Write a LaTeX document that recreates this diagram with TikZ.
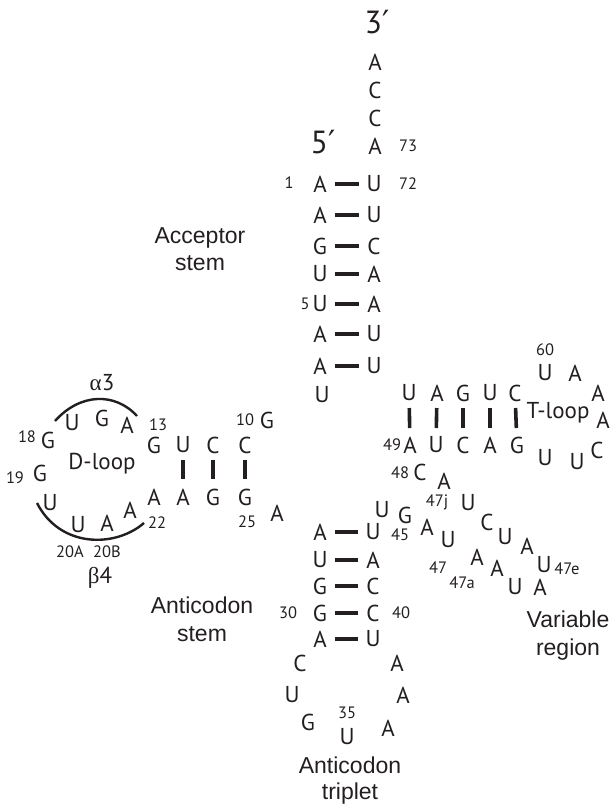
\documentclass[tikz,border=0pt]{standalone}
\usepackage{fontspec}
\setmainfont{PT Sans}
\newfontfamily\lab{Liberation Sans}
\newfontfamily\grk{Liberation Serif}
\newfontfamily\dv{DejaVu Sans}
\definecolor{ink}{RGB}{35,31,32}
\begin{document}
\begin{tikzpicture}[x=1pt,y=-1pt,
  nt/.style={font=\fontsize{23}{23}\selectfont, inner sep=0pt, text=ink},
  num/.style={font=\fontsize{16.5}{16.5}\selectfont, inner sep=0pt, text=ink},
  big/.style={font=\fontsize{32}{32}\selectfont, inner sep=0pt, text=ink},
  lbl/.style={font=\lab\fontsize{23}{23}\selectfont, inner sep=0pt, anchor=base, text=ink},
  loopl/.style={font=\fontsize{23}{23}\selectfont, inner sep=0pt, anchor=base, text=ink},
  hb/.style={draw=ink, line width=3.6pt, shorten <=15pt, shorten >=15pt},
  vbd/.style={draw=ink, line width=3.6pt, shorten <=15pt, shorten >=18pt},
  vbt/.style={draw=ink, line width=3.6pt, shorten <=15pt, shorten >=17pt},
  arcl/.style={draw=ink, line width=2.4pt}]
\useasboundingbox (0,0) rectangle (611,807);

% ---------- acceptor stem ----------
\node[big] (p3) at (377,22) {3{\dv′}};
\node[big] (p5) at (323,142) {5{\dv′}};
\node[nt] (a76) at (375,62) {A};
\node[nt] (c75) at (375,90) {C};
\node[nt] (c74) at (375,118) {C};
\node[nt] (a73) at (375,146) {A};
\node[num] (n73) at (408,146) {73};
\node[num] (n72) at (408,184) {72};
\node[num] (n1) at (289,183) {1};
\node[num] (n5) at (305,304) {5};

\node[nt] (s1) at (320,184) {A};
\node[nt] (s2) at (320,215) {A};
\node[nt] (s3) at (320,246) {G};
\node[nt] (s4) at (320,274) {U};
\node[nt] (s5) at (320,304) {U};
\node[nt] (s6) at (320,334) {A};
\node[nt] (s7) at (320,366) {A};
\node[nt] (t1) at (374,184) {U};
\node[nt] (t2) at (374,215) {U};
\node[nt] (t3) at (374,246) {C};
\node[nt] (t4) at (374,274) {A};
\node[nt] (t5) at (374,304) {A};
\node[nt] (t6) at (374,334) {U};
\node[nt] (t7) at (374,366) {U};
\foreach \i in {1,...,7} {\draw[hb] (s\i.center) -- (t\i.center);}

\node[lbl] (accl1) at (200,243) {Acceptor};
\node[lbl] (accl2) at (200,270) {stem};

\node[nt] (u8) at (322,395) {U};

% ---------- D arm ----------
\node[num] (n10) at (245,420) {10};
\node[nt] (g10) at (267,420) {G};
\node[nt] (dg) at (154,445) {G};
\node[nt] (du) at (183,445) {U};
\node[nt] (dc1) at (213,445) {C};
\node[nt] (dc2) at (245,445) {C};
\node[nt] (da1) at (154,497) {A};
\node[nt] (da2) at (183,497) {A};
\node[nt] (dg1) at (213,497) {G};
\node[nt] (dg2) at (245,497) {G};
\draw[vbd] (du.center) -- (da2.center);
\draw[vbd] (dc1.center) -- (dg1.center);
\draw[vbd] (dc2.center) -- (dg2.center);
\node[num] (n13) at (158,425) {13};
\node[nt] (la1) at (127,425) {A};
\node[nt] (lg1) at (102,418) {G};
\node[nt] (lu1) at (72,423) {U};
\node[nt] (g18) at (48,440) {G};
\node[num] (n18) at (27,437) {18};
\node[nt] (g19) at (40,473) {G};
\node[num] (n19) at (15,478) {19};
\node[nt] (lu2) at (50,503) {U};
\node[nt] (lu3) at (78,525) {U};
\node[nt] (la2) at (107,523) {A};
\node[nt] (la3) at (130,510) {A};
\node[num] (n22) at (157,523) {22};
\node[num] (n20a) at (70,552) {20A};
\node[num] (n20b) at (107,552) {20B};
\node[loopl] (dloop) at (102,469) {D-loop};
\node[nt] (alpha) at (102,383) {{\grk α}3};
\node[nt] (beta) at (100,578) {{\grk β}4};
\draw[arcl] (55,421) .. controls (80,393) and (115,392) .. (137,416);
\draw[arcl] (37,503) .. controls (60,548) and (115,548) .. (144,523);
\node[num] (n25) at (247,522) {25};
\node[nt] (a26) at (277,513) {A};

% ---------- anticodon arm ----------
\node[nt] (c1) at (320,532) {A};
\node[nt] (c2) at (320,560) {U};
\node[nt] (c3) at (320,586) {G};
\node[nt] (c4) at (320,613) {G};
\node[nt] (c5) at (320,639) {A};
\node[nt] (e1) at (373,532) {U};
\node[nt] (e2) at (373,560) {A};
\node[nt] (e3) at (373,586) {C};
\node[nt] (e4) at (373,613) {C};
\node[nt] (e5) at (373,639) {U};
\foreach \i in {1,...,5} {\draw[hb] (c\i.center) -- (e\i.center);}
\node[num] (n30) at (288,613) {30};
\node[num] (n40) at (401,613) {40};
\node[num] (n45) at (400,535) {45};
\node[nt] (ac1) at (300,663) {C};
\node[nt] (ac2) at (292,695) {U};
\node[nt] (ac3) at (308,722) {G};
\node[nt] (u35) at (347,737) {U};
\node[num] (n35) at (347,713) {35};
\node[nt] (ac5) at (388,728) {A};
\node[nt] (ac6) at (403,695) {A};
\node[nt] (ac7) at (397,663) {A};
\node[lbl] (acl1) at (202,613) {Anticodon};
\node[lbl] (acl2) at (202,641) {stem};
\node[lbl] (acl3) at (350,773) {Anticodon};
\node[lbl] (acl4) at (350,799) {triplet};

% ---------- variable region ----------
\node[nt] (v44) at (382,510) {U};
\node[nt] (v45) at (405,515) {G};
\node[nt] (v46) at (427,527) {A};
\node[nt] (v47) at (448,540) {U};
\node[nt] (v47a) at (477,557) {A};
\node[nt] (v47b) at (497,568) {A};
\node[nt] (v47c) at (515,587) {U};
\node[nt] (v47d) at (540,587) {A};
\node[nt] (v47e) at (544,565) {U};
\node[num] (n47e) at (567,569) {47e};
\node[nt] (v47f) at (527,546) {A};
\node[nt] (v47g) at (505,537) {U};
\node[nt] (v47h) at (487,522) {C};
\node[nt] (v47i) at (468,503) {U};
\node[num] (n47j) at (437,502) {47j};
\node[nt] (v47j) at (444,481) {A};
\node[nt] (c48) at (420,472) {C};
\node[num] (n48) at (400,473) {48};
\node[num] (n47) at (438,568) {47};
\node[num] (n47a) at (462,583) {47a};
\node[lbl] (vl1) at (568,627) {Variable};
\node[lbl] (vl2) at (568,655) {region};

% ---------- T arm ----------
\node[nt] (tu1) at (409,393) {U};
\node[nt] (ta1) at (437,393) {A};
\node[nt] (tg1) at (463,393) {G};
\node[nt] (tu2) at (490,393) {U};
\node[nt] (tc1) at (515,393) {C};
\node[nt] (ba1) at (410,445) {A};
\node[nt] (bu1) at (436,445) {U};
\node[nt] (bc1) at (463,445) {C};
\node[nt] (ba2) at (490,445) {A};
\node[nt] (bg1) at (517,445) {G};
\draw[vbt] (tu1.center) -- (ba1.center);
\draw[vbt] (ta1.center) -- (bu1.center);
\draw[vbt] (tg1.center) -- (bc1.center);
\draw[vbt] (tu2.center) -- (ba2.center);
\draw[vbt] (tc1.center) -- (bg1.center);
\node[num] (n49) at (392,445) {49};
\node[num] (n60) at (545,350) {60};
\node[nt] (tl1) at (545,373) {U};
\node[nt] (tl2) at (575,373) {A};
\node[nt] (tl3) at (598,393) {A};
\node[nt] (tl4) at (603,420) {A};
\node[nt] (tl5) at (597,450) {C};
\node[nt] (tl6) at (577,462) {U};
\node[nt] (tl7) at (545,458) {U};
\node[loopl] (tloop) at (558,418) {T-loop};
\end{tikzpicture}
\end{document}
